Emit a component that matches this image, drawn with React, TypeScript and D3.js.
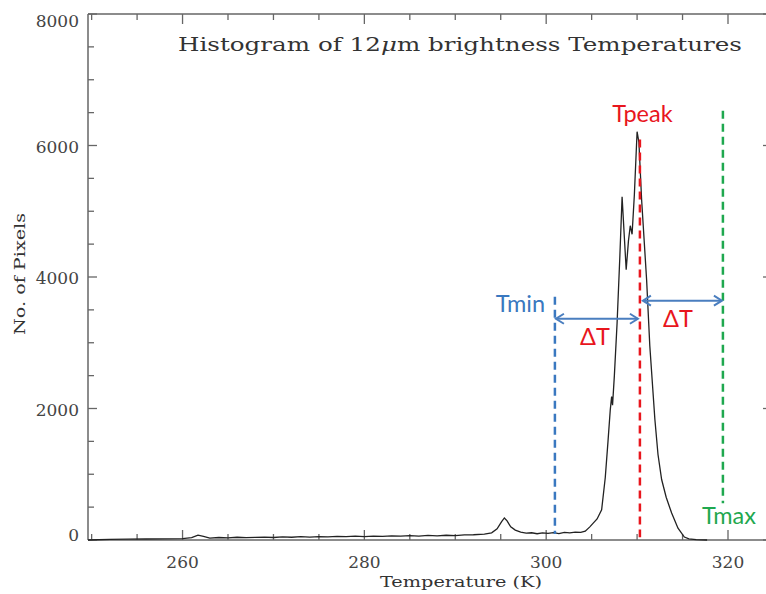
import React from 'react'
import * as d3 from 'd3'

// histogram of 12um brightness temperatures: [temperature K, pixel count]
const histogram: [number, number][] = [
  [249.6, 0], [252, 8], [254, 12], [256, 15], [258, 18], [260, 22], [261, 35],
  [261.7, 75], [262.3, 55], [263, 30], [264, 38], [265, 32], [266, 42], [267, 36],
  [268, 40], [269, 45], [270, 38], [271, 48], [272, 42], [273, 50], [274, 44],
  [275, 52], [276, 47], [277, 55], [278, 50], [279, 58], [280, 52], [281, 60],
  [282, 55], [283, 62], [284, 58], [285, 66], [286, 60], [287, 70], [288, 64],
  [289, 72], [290, 68], [291, 78], [292, 80], [293.2, 90], [294.0, 110], [294.6, 170],
  [295.1, 280], [295.4, 335], [295.7, 290], [296.1, 200], [296.6, 150], [297.2, 120],
  [297.8, 105], [298.4, 110], [299.0, 95], [299.6, 108], [300.2, 100], [300.8, 112],
  [301.4, 98], [302.0, 115], [302.6, 108], [303.2, 120], [303.8, 115], [304.3, 135],
  [304.8, 200], [305.2, 260], [305.6, 320], [306.1, 460], [306.5, 950], [306.8, 1500],
  [307.05, 1980], [307.2, 2180], [307.3, 2050], [307.5, 2500], [307.8, 3300],
  [308.1, 4300], [308.35, 5220], [308.6, 4600], [308.8, 4110], [309.05, 4550],
  [309.25, 4780], [309.45, 4650], [309.7, 5250], [310.0, 6210], [310.2, 6050],
  [310.5, 5170], [311.05, 3950], [311.4, 2950], [311.96, 1830], [312.3, 1300],
  [312.7, 920], [313.2, 650], [313.8, 410], [314.5, 180], [315.2, 45], [315.7, 18],
  [316.5, 6], [317.7, 0],
]

// marker temperatures
const tMin = 300.96
const tPeak = 310.31
const tMax = 319.44
// vertical extents of the dashed markers [bottom, top] in pixel counts
const tMinSpan = [90, 3700]
const tPeakSpan = [40, 6090]
const tMaxSpan = [560, 6530]
// arrow heights
const arrowLowY = 3365
const arrowHighY = 3640

const xMajor = [260, 280, 300, 320]
const xMinor = d3.range(250, 326, 5)
const yMajor = [0, 2000, 4000, 6000, 8000]
const yMinor = d3.range(0, 8001, 500)

const blue = '#3a78c0'
const red = '#e8161d'
const green = '#1fa84f'
const axisColor = '#666'

export default function App() {
  const width = 766
  const height = 594
  const left = 88
  const right = 772
  const top = 14
  const bottom = 540

  const x = d3.scaleLinear().domain([249.6, 324.84]).range([left, right])
  const y = d3.scaleLinear().domain([0, 8000]).range([bottom, top])

  const line = d3
    .line<[number, number]>()
    .x((d) => x(d[0]))
    .y((d) => y(d[1]))

  const serif = '"DejaVu Serif", serif'
  const sans = 'Lato, "Open Sans", sans-serif'

  const arrow = (x1: number, x2: number, yy: number, key: string) => {
    const h = 8
    const w = 5
    return (
      <g key={key} stroke="#4a7ebf" strokeWidth={2} fill="none">
        <line x1={x1} x2={x2} y1={yy} y2={yy} />
        <polyline points={`${x1 + h},${yy - w} ${x1},${yy} ${x1 + h},${yy + w}`} />
        <polyline points={`${x2 - h},${yy - w} ${x2},${yy} ${x2 - h},${yy + w}`} />
      </g>
    )
  }

  return (
    <svg
      width={width}
      height={height}
      style={{ position: 'absolute', left: 0, top: 0, background: '#fff' }}
    >
      {/* frame */}
      <g stroke={axisColor} strokeWidth={1.5} fill="none">
        <line x1={left} x2={left} y1={top} y2={bottom} />
        <line x1={left} x2={width} y1={bottom} y2={bottom} />
        <line x1={left} x2={width} y1={top} y2={top} />
        <line x1={right} x2={right} y1={top} y2={bottom} />
      </g>

      {/* x ticks, bottom and top, pointing inward */}
      <g stroke={axisColor} strokeWidth={1.3}>
        {xMinor.map((t) => {
          const len = xMajor.includes(t) ? 10 : 6
          return (
            <g key={'xt' + t}>
              <line x1={x(t)} x2={x(t)} y1={bottom} y2={bottom - len} />
              <line x1={x(t)} x2={x(t)} y1={top} y2={top + len} />
            </g>
          )
        })}
        {yMinor.map((v) => {
          const len = yMajor.includes(v) ? 9 : 6
          return (
            <g key={'yt' + v}>
              <line x1={left} x2={left + len} y1={y(v)} y2={y(v)} />
              <line x1={right} x2={right - len} y1={y(v)} y2={y(v)} />
            </g>
          )
        })}
      </g>

      {/* tick labels */}
      <g fontFamily={serif} fontSize={17} fill="#444">
        {xMajor.map((t) => (
          <text key={'xl' + t} x={x(t)} y={568} textAnchor="middle">
            {t}
          </text>
        ))}
        {yMajor.map((v) => (
          <text
            key={'yl' + v}
            x={79}
            y={Math.min(Math.max(y(v) + 1, 21), 535)}
            textAnchor="end"
            dominantBaseline="central"
          >
            {v}
          </text>
        ))}
      </g>

      {/* axis titles */}
      <text
        x={461}
        y={587}
        textAnchor="middle"
        fontFamily={serif}
        fontSize={15}
        fill="#333"
        textLength={162}
        lengthAdjust="spacingAndGlyphs"
      >
        Temperature (K)
      </text>
      <text
        transform="translate(25,274) rotate(-90)"
        textAnchor="middle"
        fontFamily={serif}
        fontSize={15}
        fill="#333"
        textLength={122}
        lengthAdjust="spacingAndGlyphs"
      >
        No. of Pixels
      </text>
      <text
        x={178}
        y={51}
        fontFamily={serif}
        fontSize={19}
        fill="#333"
        textLength={564}
        lengthAdjust="spacingAndGlyphs"
      >
        Histogram of 12<tspan fontStyle="italic">μ</tspan>m brightness Temperatures
      </text>

      {/* histogram curve */}
      <path d={line(histogram) ?? ''} fill="none" stroke="#222" strokeWidth={1.3} />

      {/* dashed markers */}
      <g strokeWidth={2.5} strokeDasharray="8,5" fill="none">
        <line x1={x(tMin)} x2={x(tMin)} y1={y(tMinSpan[1])} y2={y(tMinSpan[0])} stroke={blue} />
        <line x1={x(tPeak)} x2={x(tPeak)} y1={y(tPeakSpan[1])} y2={y(tPeakSpan[0])} stroke={red} />
        <line x1={x(tMax)} x2={x(tMax)} y1={y(tMaxSpan[1])} y2={y(tMaxSpan[0])} stroke={green} />
      </g>

      {arrow(x(tMin) + 1, x(tPeak) - 2, y(arrowLowY), 'a1')}
      {arrow(x(tPeak) + 3, x(tMax) - 1, y(arrowHighY), 'a2')}

      <g fontFamily={sans} fontSize={23.5}>
        <text x={x(tPeak) + 2.5} y={122} textAnchor="middle" fill={red}>
          Tpeak
        </text>
        <text x={545} y={312} textAnchor="end" fill={blue}>
          Tmin
        </text>
        <text x={702} y={524} fill={green}>
          Tmax
        </text>
        <text x={595} y={345} textAnchor="middle" fill={red}>
          ΔT
        </text>
        <text x={678} y={327} textAnchor="middle" fill={red}>
          ΔT
        </text>
      </g>
    </svg>
  )
}
